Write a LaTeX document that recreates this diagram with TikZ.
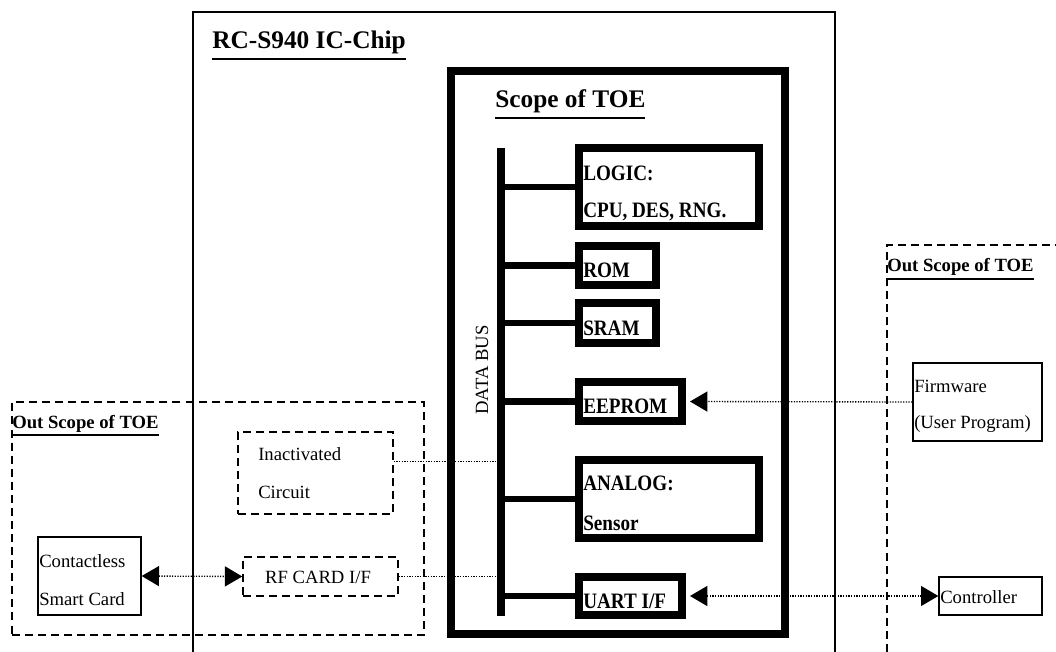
\documentclass[tikz,border=0pt]{standalone}
\usepackage{fontspec}
\setmainfont{Liberation Serif}
\newfontfamily\condf[FakeStretch=0.87]{Liberation Serif}
\usetikzlibrary{arrows.meta,fit}
\newcommand{\myul}[3]{\leavevmode\vtop{\hbox{#1}\kern#2\hrule height #3}}
\begin{document}
\begin{tikzpicture}[x=0.75pt,y=-0.75pt,
  thickbox/.style={draw, line width=6pt, inner sep=0pt},
  thinbox/.style={draw, line width=1pt, inner sep=0pt},
  dbox/.style={draw, line width=1.1pt, dash pattern=on 6pt off 3.8pt, inner sep=0pt},
  dline/.style={line width=1.1pt, dash pattern=on 6pt off 3.8pt},
  dotline/.style={line width=1pt, dash pattern=on 0.9pt off 1.1pt},
  busline/.style={line width=5.5pt},
  lbl/.style={anchor=base west, inner sep=0pt, font=\fontsize{14}{16}\selectfont},
  blbl/.style={anchor=base west, inner sep=0pt, font=\condf\bfseries\fontsize{16.5}{18}\selectfont},
  ttl/.style={anchor=base west, inner sep=0pt, font=\fontsize{19}{22}\selectfont\bfseries},
  sttl/.style={anchor=base west, inner sep=0pt, font=\fontsize{14}{16}\selectfont\bfseries},
  >={Triangle[length=13pt,width=15pt]}
]
\useasboundingbox (0,0) rectangle (1056,652);

% chip outline (open at bottom)
\draw[line width=1pt] (193,652) |- (835,12) -- (835,652);
\node[ttl] (chiptitle) at (212,49) {\myul{RC-S940 IC-Chip}{2.4pt}{1.6pt}};

% out scope regions
\node[dbox, fit={(12,402) (424,635)}] (leftout) {};
\node[sttl] (leftouttitle) at (12,428) {\myul{Out Scope of TOE}{1.8pt}{1.2pt}};
\draw[dline] (887,652) |- (1056,245);
\node[sttl] (rightouttitle) at (887,272) {\myul{Out Scope of TOE}{1.8pt}{1.2pt}};

% TOE box
\node[thickbox, fit={(450.5,71) (784.5,634)}] (toe) {};
\node[ttl] (toetitle) at (495,108) {\myul{Scope of TOE}{2.4pt}{1.6pt}};

% bus
\coordinate (bustop) at (501,148);
\coordinate (busbot) at (501,616);
\node[rotate=90, inner sep=0pt, font=\fontsize{14}{16}\selectfont] (buslabel) at (482,370) {DATA BUS};

% inner boxes
\node[thickbox, fit={(579,148) (759,226)}] (logic) {};
\node[blbl] at (583,181) {LOGIC:};
\node[blbl] at (583,218) {CPU, DES, RNG.};
\node[thickbox, fit={(579,246) (656,285)}] (rom) {};
\node[blbl] at (583,277) {ROM};
\node[thickbox, fit={(579,303) (656,343)}] (sram) {};
\node[blbl] at (583,335) {SRAM};
\node[thickbox, fit={(579,382) (682,421)}] (eeprom) {};
\node[blbl] at (583,413) {EEPROM};
\node[thickbox, fit={(579,460) (759,538)}] (analog) {};
\node[blbl] at (583,490) {ANALOG:};
\node[blbl] at (583,530) {Sensor};
\node[thickbox, fit={(579,577) (682,615)}] (uart) {};
\node[blbl] at (583,608) {UART I/F};

% left side boxes
\node[dbox, fit={(238,432) (393,514)}] (inact) {};
\node[lbl] at (258,460) {Inactivated};
\node[lbl] at (258,498) {Circuit};
\node[thinbox, fit={(38,537) (141,615)}] (card) {};
\node[lbl] at (39,567) {Contactless};
\node[lbl] at (39,605) {Smart Card};
\node[dbox, fit={(243,557) (398,596)}] (rf) {};
\node[lbl, anchor=base] at (318,583) {RF CARD I/F};

% right side boxes
\node[thinbox, fit={(913,363) (1042,441)}] (firm) {};
\node[lbl] at (914,392) {Firmware};
\node[lbl] at (914,428) {(User Program)};
\node[thinbox, fit={(939,577) (1042,615)}] (ctrl) {};
\node[lbl] at (940,603) {Controller};

% dotted connectors
\draw[dotline] ([yshift=-22.5pt]inact.north east) -- ([yshift=-22.5pt]inact.north east -| bustop);
\draw[dotline] (rf.east) -- (rf.east -| bustop);
\draw[dotline, <->] (card.east) -- (rf.west);
\draw[dotline, ->, shorten >=3pt] (firm.west) -- (eeprom.east);
\draw[dotline, <->, shorten <=3pt] (uart.east) -- (ctrl.west);

% bus and branches
\draw[busline] (bustop) -- (busbot);
\foreach \b in {logic,rom,sram,eeprom,analog,uart}
  \draw[line width=5pt] (\b.west -| bustop) -- (\b.west);
\end{tikzpicture}
\end{document}
